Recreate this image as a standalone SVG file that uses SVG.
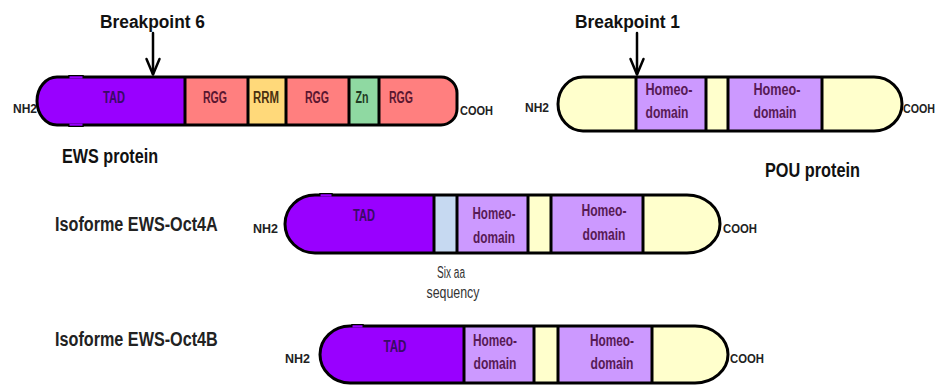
<svg xmlns="http://www.w3.org/2000/svg" width="939" height="387" viewBox="0 0 939 387">
<style>
.bg{fill:#ffffff}
.outline{fill:none;stroke:#000;stroke-width:3;stroke-linejoin:round}
.div{stroke:#000;stroke-width:3}
.tad{fill:#9900ff}
.rgg{fill:#ff7f7f}
.rrm{fill:#ffd97a}
.zn{fill:#8fd9a2}
.pale{fill:#ffffcc}
.homeo{fill:#cc99ff}
.six{fill:#c6d9f1}
.bump{fill:#9900ff;stroke:#000;stroke-width:1.5}
text{font-family:"Liberation Sans Narrow","Liberation Sans",Arial,sans-serif;font-weight:bold}
.title{font-size:20px;fill:#111}
.iso{font-size:21px;fill:#222;font-family:"Liberation Sans",Arial,sans-serif}
.bp{font-size:18px;fill:#111}
.term{font-size:12.5px;fill:#222}
.lab{font-size:16px;fill:#5a1630}
.tadl{font-size:16px;fill:#3a0a66}
.hl{font-size:16px;fill:#571a55}
.note{font-size:16px;fill:#333;font-weight:normal}
.arrow{fill:none;stroke:#000;stroke-width:2.5;stroke-linecap:round;stroke-linejoin:round}
</style>
<defs>
<clipPath id="cEWS"><path id="pEWS" d="M57,77 H441 A16,16 0 0 1 457,93 V109 A16,16 0 0 1 441,125 H57 A20,24 0 0 1 37,101 A20,24 0 0 1 57,77 Z"/></clipPath>
<clipPath id="cPOU"><path id="pPOU" d="M583,77 H874 A28,27 0 0 1 902,104 A28,27 0 0 1 874,131 H583 A25,27 0 0 1 558,104 A25,27 0 0 1 583,77 Z"/></clipPath>
<clipPath id="cA"><path id="pA" d="M315,195 H687 A33,29 0 0 1 720,224 A33,29 0 0 1 687,253 H315 A30,29 0 0 1 285,224 A30,29 0 0 1 315,195 Z"/></clipPath>
<clipPath id="cB"><path id="pB" d="M350,326 H695 A33,28.5 0 0 1 728,354.5 A33,28.5 0 0 1 695,383 H350 A30,28.5 0 0 1 320,354.5 A30,28.5 0 0 1 350,326 Z"/></clipPath>
</defs>
<rect class="bg" x="0" y="0" width="939" height="387"/>

<g id="ews-protein">
  <g clip-path="url(#cEWS)">
    <rect class="tad" x="30" y="70" width="155" height="60"/>
    <rect class="rgg" x="185" y="70" width="63" height="60"/>
    <rect class="rrm" x="248" y="70" width="38" height="60"/>
    <rect class="rgg" x="286" y="70" width="63" height="60"/>
    <rect class="zn" x="349" y="70" width="30" height="60"/>
    <rect class="rgg" x="379" y="70" width="85" height="60"/>
  </g>
  <line class="div" x1="185" y1="77" x2="185" y2="125"/>
  <line class="div" x1="248" y1="77" x2="248" y2="125"/>
  <line class="div" x1="286" y1="77" x2="286" y2="125"/>
  <line class="div" x1="349" y1="77" x2="349" y2="125"/>
  <line class="div" x1="379" y1="77" x2="379" y2="125"/>
  <use href="#pEWS" class="outline"/>
  <path class="bump" d="M69,77 V75.8 H83 V77"/>
  <rect x="69.5" y="76.5" width="13" height="2" fill="#9900ff"/>
  <path class="bump" d="M69,125 V126.2 H83 V125"/>
  <rect x="69.5" y="123.5" width="13" height="2" fill="#9900ff"/>
  <text class="tadl" x="114" y="103" text-anchor="middle" textLength="22" lengthAdjust="spacingAndGlyphs">TAD</text>
  <text class="lab" x="215" y="103" text-anchor="middle" textLength="24" lengthAdjust="spacingAndGlyphs">RGG</text>
  <text class="lab" x="266" y="103" text-anchor="middle" textLength="26" lengthAdjust="spacingAndGlyphs" style="fill:#4a3010">RRM</text>
  <text class="lab" x="317" y="103" text-anchor="middle" textLength="24" lengthAdjust="spacingAndGlyphs">RGG</text>
  <text class="lab" x="362" y="103" text-anchor="middle" textLength="13" lengthAdjust="spacingAndGlyphs" style="fill:#1f3a22">Zn</text>
  <text class="lab" x="401" y="103" text-anchor="middle" textLength="24" lengthAdjust="spacingAndGlyphs">RGG</text>
  <text class="term" x="13" y="113" textLength="24" lengthAdjust="spacingAndGlyphs">NH2</text>
  <text class="term" x="460" y="115" textLength="33" lengthAdjust="spacingAndGlyphs">COOH</text>
  <text class="title" x="62" y="163" textLength="96" lengthAdjust="spacingAndGlyphs">EWS protein</text>
  <text class="bp" x="100" y="28" textLength="105" lengthAdjust="spacingAndGlyphs">Breakpoint 6</text>
</g>

<g id="pou-protein">
  <g clip-path="url(#cPOU)">
    <rect class="pale" x="550" y="70" width="86" height="70"/>
    <rect class="homeo" x="636" y="70" width="70" height="70"/>
    <rect class="pale" x="706" y="70" width="22" height="70"/>
    <rect class="homeo" x="728" y="70" width="94" height="70"/>
    <rect class="pale" x="822" y="70" width="90" height="70"/>
  </g>
  <line class="div" x1="636" y1="77" x2="636" y2="131"/>
  <line class="div" x1="706" y1="77" x2="706" y2="131"/>
  <line class="div" x1="728" y1="77" x2="728" y2="131"/>
  <line class="div" x1="822" y1="77" x2="822" y2="131"/>
  <use href="#pPOU" class="outline"/>
  <text class="hl" x="669" y="95" text-anchor="middle" textLength="47" lengthAdjust="spacingAndGlyphs">Homeo-</text>
  <text class="hl" x="667" y="118" text-anchor="middle" textLength="43" lengthAdjust="spacingAndGlyphs">domain</text>
  <text class="hl" x="777" y="95" text-anchor="middle" textLength="47" lengthAdjust="spacingAndGlyphs">Homeo-</text>
  <text class="hl" x="775" y="118" text-anchor="middle" textLength="43" lengthAdjust="spacingAndGlyphs">domain</text>
  <text class="term" x="525" y="112" textLength="24" lengthAdjust="spacingAndGlyphs">NH2</text>
  <text class="term" x="903" y="113" textLength="32" lengthAdjust="spacingAndGlyphs">COOH</text>
  <text class="title" x="765" y="177" textLength="95" lengthAdjust="spacingAndGlyphs">POU protein</text>
  <text class="bp" x="575" y="28" textLength="105" lengthAdjust="spacingAndGlyphs">Breakpoint 1</text>
</g>

<g id="isoform-oct4a">
  <g clip-path="url(#cA)">
    <rect class="tad" x="280" y="190" width="154" height="70"/>
    <rect class="six" x="434" y="190" width="23" height="70"/>
    <rect class="homeo" x="457" y="190" width="71" height="70"/>
    <rect class="pale" x="528" y="190" width="23" height="70"/>
    <rect class="homeo" x="551" y="190" width="92" height="70"/>
    <rect class="pale" x="643" y="190" width="85" height="70"/>
  </g>
  <line class="div" x1="434" y1="195" x2="434" y2="253"/>
  <line class="div" x1="457" y1="195" x2="457" y2="253"/>
  <line class="div" x1="528" y1="195" x2="528" y2="253"/>
  <line class="div" x1="551" y1="195" x2="551" y2="253"/>
  <line class="div" x1="643" y1="195" x2="643" y2="253"/>
  <use href="#pA" class="outline"/>
  <path class="bump" d="M320,195 V193.8 H332 V195"/>
  <rect x="320.5" y="194.5" width="11" height="2" fill="#9900ff"/>
  <text class="tadl" x="364" y="221" text-anchor="middle" textLength="22" lengthAdjust="spacingAndGlyphs">TAD</text>
  <text class="hl" x="494" y="219" text-anchor="middle" textLength="43" lengthAdjust="spacingAndGlyphs">Homeo-</text>
  <text class="hl" x="494" y="243" text-anchor="middle" textLength="42" lengthAdjust="spacingAndGlyphs">domain</text>
  <text class="hl" x="604" y="216" text-anchor="middle" textLength="45" lengthAdjust="spacingAndGlyphs">Homeo-</text>
  <text class="hl" x="604" y="240" text-anchor="middle" textLength="43" lengthAdjust="spacingAndGlyphs">domain</text>
  <text class="term" x="253" y="233" textLength="25" lengthAdjust="spacingAndGlyphs">NH2</text>
  <text class="term" x="723" y="233" textLength="34" lengthAdjust="spacingAndGlyphs">COOH</text>
  <text class="note" x="451" y="278" text-anchor="middle" textLength="28" lengthAdjust="spacingAndGlyphs">Six aa</text>
  <text class="note" x="453" y="298" text-anchor="middle" textLength="53" lengthAdjust="spacingAndGlyphs">sequency</text>
  <text class="iso" transform="translate(55,231) scale(0.775,1)" x="0" y="0" textLength="210" lengthAdjust="spacingAndGlyphs">Isoforme EWS-Oct4A</text>
</g>

<g id="isoform-oct4b">
  <g clip-path="url(#cB)">
    <rect class="tad" x="315" y="320" width="149" height="70"/>
    <rect class="homeo" x="464" y="320" width="70" height="70"/>
    <rect class="pale" x="534" y="320" width="24" height="70"/>
    <rect class="homeo" x="558" y="320" width="94" height="70"/>
    <rect class="pale" x="652" y="320" width="85" height="70"/>
  </g>
  <line class="div" x1="464" y1="326" x2="464" y2="383"/>
  <line class="div" x1="534" y1="326" x2="534" y2="383"/>
  <line class="div" x1="558" y1="326" x2="558" y2="383"/>
  <line class="div" x1="652" y1="326" x2="652" y2="383"/>
  <use href="#pB" class="outline"/>
  <path class="bump" d="M352,326 V324.8 H363 V326"/>
  <rect x="352.5" y="325.5" width="10" height="2" fill="#9900ff"/>
  <text class="tadl" x="395" y="352" text-anchor="middle" textLength="23" lengthAdjust="spacingAndGlyphs">TAD</text>
  <text class="hl" x="495" y="346" text-anchor="middle" textLength="44" lengthAdjust="spacingAndGlyphs">Homeo-</text>
  <text class="hl" x="495" y="369" text-anchor="middle" textLength="43" lengthAdjust="spacingAndGlyphs">domain</text>
  <text class="hl" x="612" y="346" text-anchor="middle" textLength="44" lengthAdjust="spacingAndGlyphs">Homeo-</text>
  <text class="hl" x="612" y="369" text-anchor="middle" textLength="43" lengthAdjust="spacingAndGlyphs">domain</text>
  <text class="term" x="285" y="363" textLength="25" lengthAdjust="spacingAndGlyphs">NH2</text>
  <text class="term" x="730" y="363" textLength="34" lengthAdjust="spacingAndGlyphs">COOH</text>
  <text class="iso" transform="translate(55,346) scale(0.775,1)" x="0" y="0" textLength="210" lengthAdjust="spacingAndGlyphs">Isoforme EWS-Oct4B</text>
</g>

<g id="connectors">
  <line class="arrow" x1="153" y1="33" x2="153" y2="74"/>
  <polyline class="arrow" points="146.5,59 153,74.5 159.5,59"/>
  <line class="arrow" x1="637" y1="33" x2="637" y2="74"/>
  <polyline class="arrow" points="630.5,59 637,74.5 643.5,59"/>
</g>
</svg>
